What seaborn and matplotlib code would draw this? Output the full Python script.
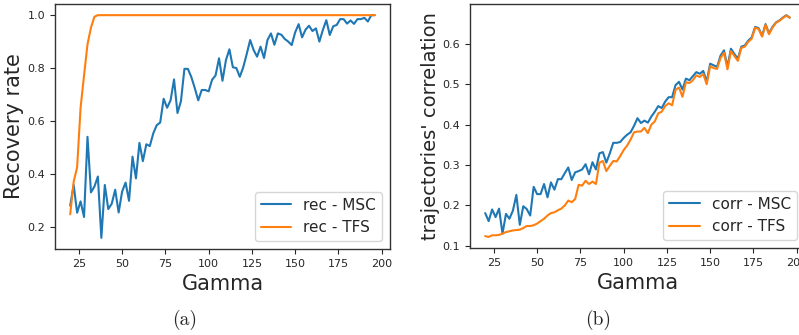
import numpy as np
import matplotlib
matplotlib.use("Agg")
import matplotlib.pyplot as plt
import seaborn as sns

# Gamma values on the x axis
gamma = np.arange(20, 198, 2)

# (a) recovery rate
rec_msc = [0.28, 0.358, 0.253, 0.296, 0.237, 0.54, 0.33, 0.352, 0.39, 0.158,
           0.358, 0.267, 0.287, 0.34, 0.254, 0.333, 0.367, 0.298, 0.465, 0.383,
           0.517, 0.448, 0.512, 0.505, 0.553, 0.584, 0.594, 0.684, 0.65, 0.678,
           0.757, 0.63, 0.675, 0.797, 0.797, 0.766, 0.724, 0.678, 0.717, 0.717,
           0.712, 0.756, 0.772, 0.837, 0.752, 0.83, 0.871, 0.803, 0.80, 0.767,
           0.803, 0.853, 0.906, 0.868, 0.843, 0.881, 0.838, 0.906, 0.931, 0.888,
           0.931, 0.926, 0.91, 0.90, 0.887, 0.935, 0.966, 0.916, 0.945, 0.96,
           0.94, 0.95, 0.90, 0.944, 0.981, 0.925, 0.958, 0.963, 0.985, 0.985,
           0.968, 0.98, 0.967, 0.985, 0.985, 0.99, 0.976, 1.0, 1.0]
rec_tfs = [0.247, 0.37, 0.425, 0.65, 0.772, 0.89, 0.953, 0.994, 1.0] + [1.0] * 80

# (b) trajectories' correlation
corr_msc = [0.181, 0.161, 0.19, 0.171, 0.192, 0.13, 0.179, 0.167, 0.187, 0.226,
            0.152, 0.198, 0.191, 0.175, 0.246, 0.228, 0.228, 0.253, 0.22, 0.257,
            0.239, 0.265, 0.265, 0.28, 0.294, 0.263,
            0.282, 0.285, 0.289, 0.302, 0.277, 0.307, 0.289, 0.329, 0.332, 0.306,
            0.329, 0.355, 0.355, 0.357, 0.367, 0.375, 0.381, 0.397, 0.416, 0.404,
            0.41, 0.405, 0.42, 0.432, 0.446, 0.441, 0.457, 0.468, 0.468, 0.498,
            0.506,
            0.487, 0.514, 0.51, 0.52, 0.53, 0.526, 0.533, 0.506, 0.551, 0.547,
            0.543, 0.571, 0.584, 0.543, 0.588, 0.575, 0.563, 0.593, 0.596, 0.608,
            0.616, 0.642, 0.639, 0.62, 0.649, 0.626, 0.642, 0.653, 0.658, 0.665,
            0.671, 0.665]
corr_tfs = [0.124, 0.122, 0.126, 0.126, 0.127, 0.13, 0.134, 0.136, 0.138, 0.139,
            0.14, 0.144, 0.149, 0.149, 0.151, 0.155, 0.161, 0.167, 0.175, 0.181,
            0.183, 0.188, 0.192, 0.2, 0.212, 0.208, 0.216, 0.251, 0.249,
            0.261, 0.253, 0.259, 0.253, 0.306, 0.31, 0.285, 0.298, 0.31, 0.309,
            0.322, 0.337, 0.348, 0.363, 0.381, 0.383, 0.383, 0.392, 0.379, 0.4,
            0.408, 0.428, 0.432, 0.446, 0.453, 0.448, 0.486, 0.492,
            0.469, 0.505, 0.503, 0.51, 0.522, 0.518, 0.525, 0.5, 0.545, 0.54,
            0.538, 0.565, 0.578, 0.537, 0.582, 0.57, 0.558, 0.59, 0.593, 0.605,
            0.613, 0.64, 0.637, 0.618, 0.647, 0.624, 0.64, 0.652, 0.657, 0.664,
            0.67, 0.665]

sns.set_style("ticks")
plt.rcParams.update({
    "axes.edgecolor": "#333333",
    "axes.linewidth": 1.0,
    "xtick.major.size": 3.5,
    "ytick.major.size": 3.5,
    "xtick.labelsize": 8,
    "ytick.labelsize": 8,
})

blue, orange = "#1f77b4", "#ff7f0e"

fig = plt.figure(figsize=(7.99, 3.35), dpi=100)
ax_a = fig.add_axes([0.0688, 0.2567, 0.4193, 0.7313])
ax_b = fig.add_axes([0.5882, 0.2597, 0.4193, 0.7280])

sns.lineplot(x=gamma, y=rec_msc, ax=ax_a, color=blue, lw=1.5, label="rec - MSC")
sns.lineplot(x=gamma, y=rec_tfs, ax=ax_a, color=orange, lw=1.5, label="rec - TFS")
ax_a.set_yticks([0.2, 0.4, 0.6, 0.8, 1.0])
ax_a.set_xlabel("Gamma", fontsize=15)
ax_a.set_ylabel("Recovery rate", fontsize=15)
ax_a.yaxis.set_label_coords(-0.092, 0.5)
ax_a.legend(loc="lower right", fontsize=11)

sns.lineplot(x=gamma, y=corr_msc, ax=ax_b, color=blue, lw=1.5, label="corr - MSC")
sns.lineplot(x=gamma, y=corr_tfs, ax=ax_b, color=orange, lw=1.5, label="corr - TFS")
ax_b.set_yticks([0.1, 0.2, 0.3, 0.4, 0.5, 0.6])
ax_b.set_xlabel("Gamma", fontsize=15)
ax_b.set_ylabel("trajectories' correlation", fontsize=14)
ax_b.yaxis.set_label_coords(-0.088, 0.5)
ax_b.legend(loc="lower right", fontsize=11)

for ax in (ax_a, ax_b):
    ax.set_xticks([25, 50, 75, 100, 125, 150, 175, 200])

fig.text(0.2315, 0.045, "(a)", family="cmr10", fontsize=14, ha="center", va="center")
fig.text(0.748, 0.045, "(b)", family="cmr10", fontsize=14, ha="center", va="center")

fig.savefig("out.png", dpi=100)
